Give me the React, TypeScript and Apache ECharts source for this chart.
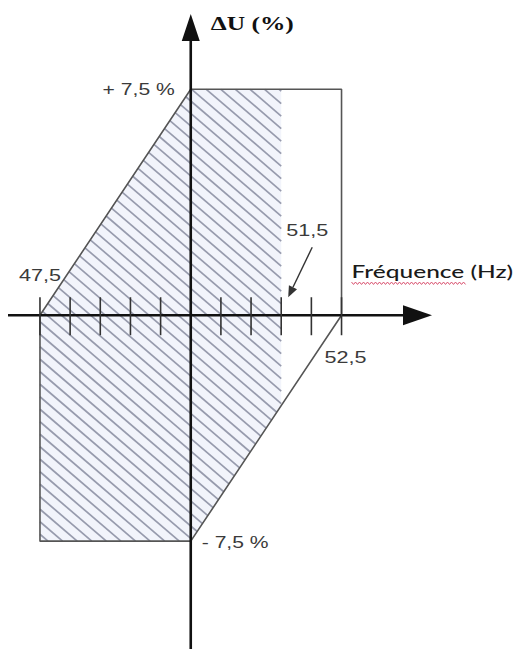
import React, { useEffect, useRef } from 'react';
import * as echarts from 'echarts';

// ---- data (frequency in Hz, voltage deviation in %) ----
const outlineHz = [47.5, 50, 52.5, 52.5, 50, 47.5, 47.5];
const outlinePct = [0, 7.5, 7.5, 0, -7.5, -7.5, 0];
const hatchHz = [47.5, 50, 51.5, 51.5, 50, 47.5];
const hatchPct = [0, 7.5, 7.5, -3, -7.5, -7.5];
const tickHz = [47.5, 48, 48.5, 49, 49.5, 50.5, 51, 51.5, 52, 52.5];
const labelTexts = ['+ 7,5 %', '- 7,5 %', '47,5', '51,5', '52,5', 'Fréquence (Hz)', 'ΔU (%)'];
const labelHz = [50, 50, 47.5, 51.5, 52.5, 52.5, 50];
const labelPct = [7.5, -7.5, 0, 0, 0, 0, 10];
const xRange = [46.97, 54];
const yRange = [-11.08, 10];

// ---- styles (pixel offsets / fonts) ----
const labelStyles = [
  { dx: -16, dy: 0, align: 'right', font: 'sans', size: 16, sx: 1.32 },
  { dx: 11, dy: 1, align: 'left', font: 'sans', size: 16, sx: 1.32 },
  { dx: 0, dy: -40, align: 'center', font: 'sans', size: 16, sx: 1.35 },
  { dx: 26, dy: -85, align: 'center', font: 'sans', size: 16, sx: 1.35 },
  { dx: 4, dy: 42, align: 'center', font: 'sans', size: 16, sx: 1.35 },
  { dx: 10, dy: -44, align: 'left', font: 'cal', size: 18, sx: 1.36 },
  { dx: 20, dy: 10, align: 'left', font: 'serif', size: 19, sx: 1.34 },
];

const fontFamilies: Record<string, string> = {
  sans: '"Liberation Sans", Arial, sans-serif',
  cal: 'Lato, "Noto Sans", sans-serif',
  serif: '"Liberation Serif", "Times New Roman", serif',
};

function hatchLines(pts: number[][], k: number, step: number) {
  const cs = pts.map((p) => p[1] - k * p[0]);
  const cMin = Math.min(...cs);
  const cMax = Math.max(...cs);
  const out: number[][][] = [];
  for (let c = Math.ceil(cMin / step) * step; c <= cMax; c += step) {
    const hits: number[][] = [];
    for (let i = 0; i < pts.length; i++) {
      const P = pts[i];
      const Q = pts[(i + 1) % pts.length];
      const fP = P[1] - k * P[0] - c;
      const fQ = Q[1] - k * Q[0] - c;
      if (fP === fQ) continue;
      if (fP * fQ <= 0) {
        const t = fP / (fP - fQ);
        hits.push([P[0] + t * (Q[0] - P[0]), P[1] + t * (Q[1] - P[1])]);
      }
    }
    if (hits.length >= 2) {
      hits.sort((a, b) => a[0] - b[0]);
      const a = hits[0];
      const b = hits[hits.length - 1];
      if (Math.abs(a[0] - b[0]) > 0.5) out.push([a, b]);
    }
  }
  return out;
}

export default function App() {
  const ref = useRef<HTMLDivElement>(null);
  useEffect(() => {
    if (!ref.current) return;
    const chart = echarts.init(ref.current, null, { renderer: 'svg' });
    const option: any = {
      animation: false,
      backgroundColor: '#ffffff',
      grid: { left: 8, right: 81, top: 14, bottom: 0 },
      xAxis: { type: 'value', min: xRange[0], max: xRange[1], show: false },
      yAxis: { type: 'value', min: yRange[0], max: yRange[1], show: false },
      series: [
        {
          name: 'hatch',
          type: 'custom',
          z: 1,
          data: [[hatchHz[0], hatchPct[0]]],
          renderItem: (params: any, api: any) => {
            const pts = hatchHz.map((h, i) => api.coord([h, hatchPct[i]]));
            const lines = hatchLines(pts, 12 / 14, 12.5);
            return {
              type: 'group',
              children: [
                { type: 'polygon', shape: { points: pts }, style: { fill: '#f2f4fb', stroke: 'none' } },
                ...lines.map((l) => ({
                  type: 'line',
                  shape: { x1: l[0][0], y1: l[0][1], x2: l[1][0], y2: l[1][1] },
                  style: { stroke: '#979bad', lineWidth: 1.7 },
                })),
              ],
            };
          },
        },
        {
          name: 'outline',
          type: 'line',
          z: 2,
          symbol: 'none',
          data: outlineHz.map((h, i) => [h, outlinePct[i]]),
          lineStyle: { color: '#555', width: 1.6 },
        },
        {
          name: 'axes',
          type: 'custom',
          z: 3,
          data: [[50, 0]],
          renderItem: (params: any, api: any) => {
            const o = api.coord([api.value(0), api.value(1)]);
            const cs = params.coordSys;
            const xEnd = cs.x + cs.width;
            const yTop = cs.y;
            const yBot = cs.y + cs.height;
            const aLen = 29;
            const aHalf = 10;
            return {
              type: 'group',
              children: [
                { type: 'line', shape: { x1: cs.x, y1: o[1], x2: xEnd - aLen + 2, y2: o[1] }, style: { stroke: '#111', lineWidth: 2.6 } },
                { type: 'polygon', shape: { points: [[xEnd, o[1]], [xEnd - aLen, o[1] - aHalf], [xEnd - aLen, o[1] + aHalf]] }, style: { fill: '#111' } },
                { type: 'line', shape: { x1: o[0], y1: yBot, x2: o[0], y2: yTop + 24 }, style: { stroke: '#111', lineWidth: 2.6 } },
                { type: 'polygon', shape: { points: [[o[0], yTop], [o[0] - 9, yTop + 27], [o[0] + 9, yTop + 27]] }, style: { fill: '#111' } },
              ],
            };
          },
        },
        {
          name: 'ticks',
          type: 'custom',
          z: 3,
          data: tickHz.map((h) => [h, 0]),
          renderItem: (params: any, api: any) => {
            const p = api.coord([api.value(0), api.value(1)]);
            return {
              type: 'line',
              shape: { x1: p[0], y1: p[1] - 18, x2: p[0], y2: p[1] + 20 },
              style: { stroke: '#333', lineWidth: 1.6 },
            };
          },
        },
        {
          name: 'labels',
          type: 'custom',
          z: 4,
          data: labelTexts.map((t, i) => [labelHz[i], labelPct[i], i]),
          renderItem: (params: any, api: any) => {
            const i = api.value(2);
            const s = labelStyles[i];
            const p = api.coord([api.value(0), api.value(1)]);
            const x = p[0] + s.dx;
            const y = p[1] + s.dy;
            const children: any[] = [
              {
                type: 'text',
                x,
                y,
                scaleX: s.sx,
                style: {
                  text: labelTexts[i],
                  fill: s.font === 'serif' ? '#111' : s.font === 'cal' ? '#1a1a1a' : '#3a3a3a',
                  fontSize: s.size,
                  fontFamily: fontFamilies[s.font],
                  fontWeight: s.font === 'serif' ? 'bold' : s.font === 'cal' ? 500 : 'normal',
                  align: s.align,
                  verticalAlign: 'middle',
                },
              },
            ];
            if (i === 3) {
              // pointer arrow from "51,5" down to its tick
              const x1 = p[0] + 31;
              const y1 = p[1] - 68;
              const x2 = p[0] + 7;
              const y2 = p[1] - 18;
              const dx = x2 - x1;
              const dy = y2 - y1;
              const len = Math.hypot(dx, dy);
              const ux = dx / len;
              const uy = dy / len;
              const hl = 11;
              const hw = 4.5;
              const bx = x2 - ux * hl;
              const by = y2 - uy * hl;
              children.push(
                { type: 'line', shape: { x1, y1, x2: bx, y2: by }, style: { stroke: '#333', lineWidth: 1.4 } },
                { type: 'polygon', shape: { points: [[x2, y2], [bx - uy * hw, by + ux * hw], [bx + uy * hw, by - ux * hw]] }, style: { fill: '#333' } }
              );
            }
            if (i === 5) {
              // spell-check style wavy underline under "Fréquence"
              const pts: number[][] = [];
              const w = 115;
              for (let k = 0; k <= w; k += 2) {
                pts.push([x + k, y + 12 + (k % 4 === 0 ? -1.2 : 1.2)]);
              }
              children.push({ type: 'polyline', shape: { points: pts }, style: { stroke: '#d9506e', lineWidth: 1, fill: null } });
            }
            return { type: 'group', children };
          },
        },
      ],
    };
    chart.setOption(option);
    return () => chart.dispose();
  }, []);
  return (
    <div
      ref={ref}
      style={{ position: 'absolute', left: 0, top: 0, width: 513, height: 649, background: '#fff' }}
    />
  );
}
